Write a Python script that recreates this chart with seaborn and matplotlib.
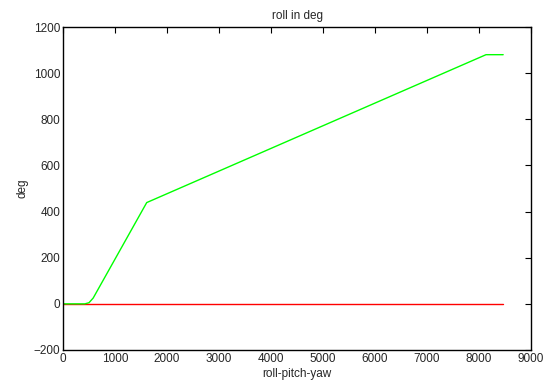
import matplotlib
matplotlib.use("Agg")
import matplotlib.pyplot as plt
import seaborn as sns
import pandas as pd

# data
roll_x = [0, 420, 500, 580, 1610, 8135, 8465]
roll_y = [0, 0, 5, 25, 439, 1080, 1080]
ref_x = [0, 8465]
ref_y = [0, 0]

xticks = [0, 1000, 2000, 3000, 4000, 5000, 6000, 7000, 8000, 9000]
yticks = [-200, 0, 200, 400, 600, 800, 1000, 1200]

sns.set_style("white")
plt.rcParams['font.family'] = ['Liberation Sans', 'DejaVu Sans']
plt.rcParams['xtick.direction'] = 'in'
plt.rcParams['ytick.direction'] = 'in'

fig = plt.figure(figsize=(5.54, 3.87), dpi=100)
ax = fig.add_axes([63/554, 1 - 350/387, (531-63)/554, (350-27)/387])

df_ref = pd.DataFrame({"x": ref_x, "y": ref_y})
df_roll = pd.DataFrame({"x": roll_x, "y": roll_y})
sns.lineplot(data=df_ref, x="x", y="y", ax=ax, color=(1, 0, 0), linewidth=1.0, estimator=None, sort=False)
sns.lineplot(data=df_roll, x="x", y="y", ax=ax, color=(0, 1, 0), linewidth=1.0, estimator=None, sort=False)

ax.set_xlim(0, 9000)
ax.set_ylim(-200, 1200)
ax.set_xticks(xticks)
ax.set_yticks(yticks)
ax.tick_params(axis='both', labelsize=8.5, length=4, width=0.8, color='black',
               top=True, right=True, pad=2)
for s in ax.spines.values():
    s.set_color('black')
    s.set_linewidth(1.0)
ax.set_xlabel("roll-pitch-yaw", fontsize=8.5, labelpad=2)
ax.set_ylabel("deg", fontsize=8.5, labelpad=4)
ax.set_title("roll in deg", fontsize=8.5, pad=6)

fig.savefig("out.png", dpi=100)
